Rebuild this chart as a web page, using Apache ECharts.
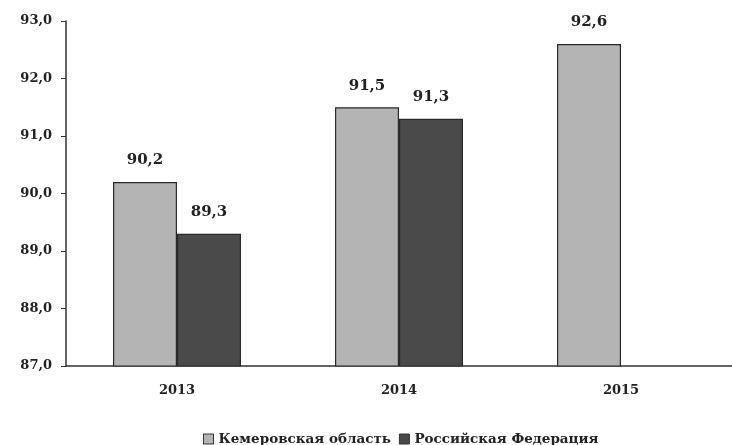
<!DOCTYPE html>
<html>
<head>
<meta charset="utf-8">
<script src="https://cdn.jsdelivr.net/npm/echarts@6/dist/echarts.min.js"></script>
<style>
  html, body { margin: 0; padding: 0; background: #fff; }
  #chart { width: 732px; height: 445px; }
</style>
</head>
<body>
<div id="chart"></div>
<script>
// годы и значения
const years = ['2013', '2014', '2015'];
const kemerovo = [90.2, 91.5, 92.6];
const russia = [89.3, 91.3, '-'];
const yTicks = [87, 88, 89, 90, 91, 92, 93];

const fmt = v => Number(v).toFixed(1).replace('.', ',');
const serif = '"DejaVu Serif", "Liberation Serif", serif';

const chart = echarts.init(document.getElementById('chart'));

const option = {
  backgroundColor: '#fff',
  animation: false,
  textStyle: { fontFamily: serif },
  grid: { left: 66, right: -2, top: 21, bottom: 79 },
  legend: {
    left: 198,
    top: 427,
    icon: 'rect',
    itemWidth: 10,
    itemHeight: 10,
    itemGap: 8,
    textStyle: { fontFamily: serif, fontWeight: 'bold', fontSize: 13.5, color: '#222' },
    data: [
      { name: 'Кемеровская область', itemStyle: { color: '#b4b4b4', borderColor: '#333', borderWidth: 1 } },
      { name: 'Российская Федерация', itemStyle: { color: '#4a4a4a', borderColor: '#333', borderWidth: 1 } }
    ]
  },
  xAxis: {
    type: 'category',
    data: years,
    axisLine: { lineStyle: { color: '#333', width: 1.5 } },
    axisTick: { show: false },
    axisLabel: { fontFamily: serif, fontWeight: 'bold', fontSize: 13, color: '#222', margin: 18 }
  },
  yAxis: {
    type: 'value',
    min: yTicks[0],
    max: yTicks[yTicks.length - 1],
    interval: 1,
    axisLine: { show: true, lineStyle: { color: '#333', width: 1.5 } },
    axisTick: { show: true, length: 5, lineStyle: { color: '#333' } },
    splitLine: { show: false },
    axisLabel: { formatter: fmt, fontFamily: serif, fontWeight: 'bold', fontSize: 13, color: '#222', margin: 14 }
  },
  series: [
    {
      name: 'Кемеровская область',
      type: 'bar',
      data: kemerovo,
      barWidth: 64,
      barGap: '0%',
      itemStyle: { color: '#b4b4b4', borderColor: '#2a2a2a', borderWidth: 1.2 },
      label: { show: true, position: 'top', distance: 14, formatter: p => fmt(p.value),
               fontFamily: serif, fontWeight: 'bold', fontSize: 15, color: '#222' }
    },
    {
      name: 'Российская Федерация',
      type: 'bar',
      data: russia,
      barWidth: 64,
      itemStyle: { color: '#4a4a4a', borderColor: '#2a2a2a', borderWidth: 1.2 },
      label: { show: true, position: 'top', distance: 14, formatter: p => fmt(p.value),
               fontFamily: serif, fontWeight: 'bold', fontSize: 15, color: '#222' }
    }
  ]
};

chart.setOption(option);
</script>
</body>
</html>
